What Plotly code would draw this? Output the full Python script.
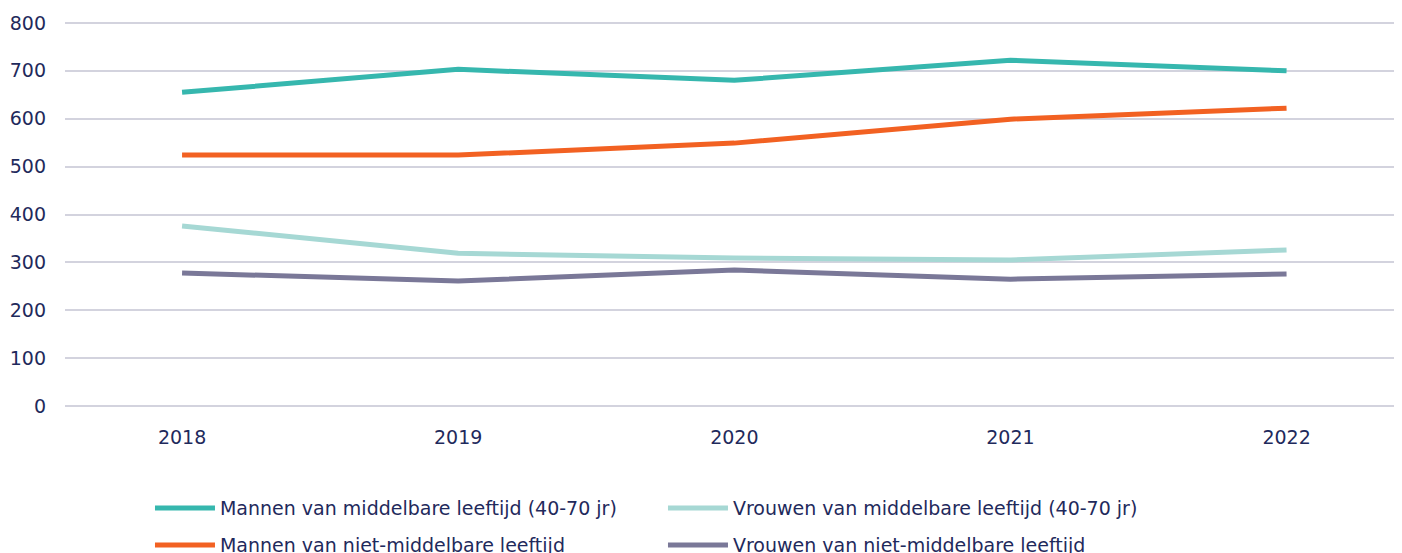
import plotly.graph_objects as go

years = ["2018", "2019", "2020", "2021", "2022"]
mannen_midd = [655, 703, 680, 722, 700]
mannen_niet = [524, 524, 549, 599, 622]
vrouwen_midd = [376, 319, 309, 305, 326]
vrouwen_niet = [278, 261, 284, 265, 276]
y_ticks = [0, 100, 200, 300, 400, 500, 600, 700, 800]

text_color = "#1F2A5C"
font_family = "DejaVu Sans"

fig = go.Figure()
series = [
    ("Mannen van middelbare leeftijd (40-70 jr)", mannen_midd, "#36B7AE", "legend"),
    ("Mannen van niet-middelbare leeftijd", mannen_niet, "#F26122", "legend2"),
    ("Vrouwen van middelbare leeftijd (40-70 jr)", vrouwen_midd, "#A6D8D4", "legend"),
    ("Vrouwen van niet-middelbare leeftijd", vrouwen_niet, "#7A7898", "legend2"),
]
for name, vals, color, lg in series:
    fig.add_trace(go.Scatter(x=years, y=vals, name=name, mode="lines",
                             line=dict(color=color, width=5), legend=lg))

legend_common = dict(orientation="h", xanchor="left", yanchor="middle",
                     font=dict(family=font_family, size=19, color=text_color),
                     entrywidth=438, entrywidthmode="pixels", itemwidth=60,
                     bgcolor="rgba(0,0,0,0)", traceorder="normal")

# page has an 8px body margin, so shift the figure up/left by 8px
fig.update_layout(
    width=1402, height=553,
    margin=dict(l=57, r=13, t=12, b=152, autoexpand=False),
    paper_bgcolor="white", plot_bgcolor="white",
    font=dict(family=font_family, size=19, color=text_color),
    showlegend=True,
    legend=dict(x=0.0638, y=-0.255, **legend_common),
    legend2=dict(x=0.0638, y=-0.350, **legend_common),
    xaxis=dict(type="category", range=[-0.424, 4.40], showgrid=False,
               showline=False, zeroline=False, ticks="",
               ticklabelstandoff=15,
               tickfont=dict(family=font_family, size=19, color=text_color)),
    yaxis=dict(range=[-6, 806], tickvals=y_ticks, showgrid=True,
               gridcolor="#D3D3DE", gridwidth=1.5, zeroline=False,
               showline=False, ticks="", ticklabelstandoff=18,
               tickfont=dict(family=font_family, size=19, color=text_color)),
)

fig.write_html("out.html")
